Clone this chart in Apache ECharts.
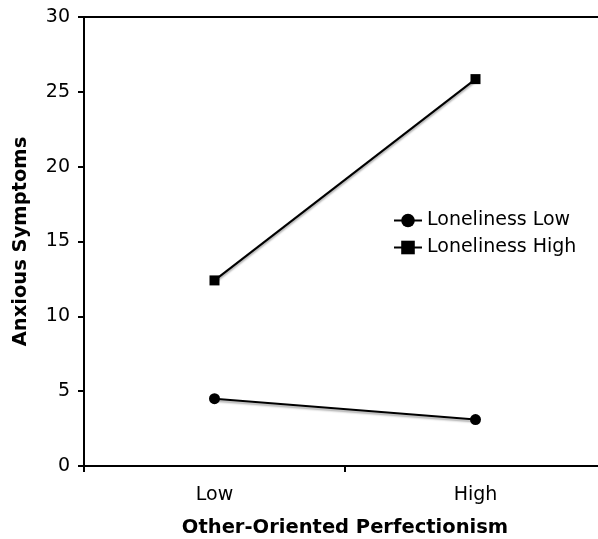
<!DOCTYPE html>
<html><head><meta charset="utf-8">
<script src="https://cdn.jsdelivr.net/npm/echarts@6/dist/echarts.min.js"></script>
<style>html,body{margin:0;padding:0;background:#fff}#c{width:598px;height:539px}</style>
</head><body><div id="c"></div>
<script>
const categories = ['Low', 'High'];
const lonelinessLow = [4.5, 3.1];
const lonelinessHigh = [12.4, 25.85];
const yTicks = [0, 5, 10, 15, 20, 25, 30];

const chart = echarts.init(document.getElementById('c'));
const font = 'DejaVu Sans';
const lineStyle = {color: '#000', width: 2, shadowColor: 'rgba(0,0,0,0.35)', shadowBlur: 2, shadowOffsetY: 2};
chart.setOption({
  animation: false,
  textStyle: {fontFamily: font},
  grid: {left: 84, width: 522, top: 17, bottom: 73, containLabel: false, outerBoundsMode: 'none'},
  legend: {
    orient: 'vertical', left: 388, top: 206, itemWidth: 28, itemHeight: 17, itemGap: 8,
    textStyle: {fontFamily: font, fontSize: 19, color: '#000'},
    data: ['Loneliness Low', 'Loneliness High']
  },
  xAxis: [{
    type: 'category', data: categories, boundaryGap: true,
    name: 'Other-Oriented Perfectionism', nameLocation: 'middle', nameGap: 52,
    nameTextStyle: {fontFamily: font, fontWeight: 'bold', fontSize: 19.5, color: '#000'},
    axisLine: {lineStyle: {color: '#000', width: 2}},
    axisTick: {show: true, length: 6, lineStyle: {color: '#000', width: 2}},
    axisLabel: {fontFamily: font, fontSize: 19, color: '#000', margin: 20}
  }, {
    type: 'category', data: categories, position: 'top',
    axisLine: {show: true, lineStyle: {color: '#000', width: 2}},
    axisTick: {show: false}, axisLabel: {show: false}, splitLine: {show: false}
  }],
  yAxis: {
    type: 'value', min: yTicks[0], max: yTicks[yTicks.length - 1], interval: 5,
    name: 'Anxious Symptoms', nameLocation: 'middle', nameGap: 53,
    nameTextStyle: {fontFamily: font, fontWeight: 'bold', fontSize: 19.5, color: '#000'},
    axisLine: {show: true, lineStyle: {color: '#000', width: 2}},
    axisTick: {show: true, length: 6, lineStyle: {color: '#000', width: 2}},
    axisLabel: {fontFamily: font, fontSize: 19, color: '#000', margin: 14},
    splitLine: {show: false}
  },
  series: [
    {name: 'Loneliness Low', type: 'line', data: lonelinessLow, symbol: 'circle', symbolSize: 11,
     itemStyle: {color: '#000'}, lineStyle: lineStyle},
    {name: 'Loneliness High', type: 'line', data: lonelinessHigh, symbol: 'rect', symbolSize: 10,
     itemStyle: {color: '#000'}, lineStyle: lineStyle}
  ]
});
</script></body></html>
